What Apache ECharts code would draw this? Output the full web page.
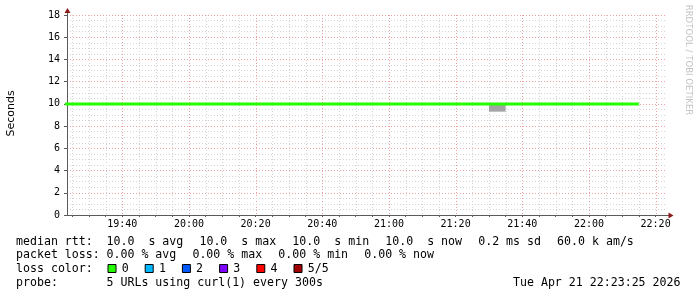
<!DOCTYPE html>
<html>
<head>
<meta charset="utf-8">
<script src="https://cdn.jsdelivr.net/npm/echarts@6/dist/echarts.min.js"></script>
<style>
html,body{margin:0;padding:0;background:#fff;}
#chart{width:697px;height:297px;}
</style>
</head>
<body>
<div id="chart"></div>
<script>
// ---------- data ----------
const rangeStart = "19:23:25";
const rangeEnd = "22:23:25";
const xTickLabels = ["19:40", "20:00", "20:20", "20:40", "21:00", "21:20", "21:40", "22:00", "22:20"];
const yTickLabels = [0, 2, 4, 6, 8, 10, 12, 14, 16, 18];
const medianTimes = ["19:20","19:25","19:30","19:35","19:40","19:45","19:50","19:55",
  "20:00","20:05","20:10","20:15","20:20","20:25","20:30","20:35","20:40","20:45","20:50","20:55",
  "21:00","21:05","21:10","21:15","21:20","21:25","21:30","21:35","21:40","21:45","21:50","21:55",
  "22:00","22:05","22:10","22:15"];
const medianValues = [10.0,10.0,10.0,10.0,10.0,10.0,10.0,10.0,
  10.0,10.0,10.0,10.0,10.0,10.0,10.0,10.0,10.0,10.0,10.0,10.0,
  10.0,10.0,10.0,10.0,10.0,10.0,10.0,10.0,10.0,10.0,10.0,10.0,
  10.0,10.0,10.0,10.0];
const smokeStart = ["21:30"];
const smokeEnd = ["21:35"];
const smokeLow = [9.3];
const smokeHigh = [10.0];
const lossLabels = ["0", "1", "2", "3", "4", "5/5"];
const lossColors = ["#26ff00", "#00b8ff", "#0059ff", "#7e00ff", "#ff0000", "#a10000"];
const rttLine = ["median rtt:", "10.0  s avg", "10.0  s max", "10.0  s min", "10.0  s now", "0.2 ms sd", "60.0 k am/s"];
const lossLine = ["packet loss:", "0.00 % avg", "0.00 % max", "0.00 % min", "0.00 % now"];
const probeLine = ["probe:", "5 URLs using curl(1) every 300s"];
const dateText = "Tue Apr 21 22:23:25 2026";
const yTitle = "Seconds";
const watermark = "RRDTOOL / TOBI OETIKER";

// ---------- helpers ----------
function toSec(s) {
  const p = s.split(":").map(Number);
  return p[0] * 3600 + p[1] * 60 + (p[2] || 0);
}
function fmt(v) {
  const h = Math.floor(v / 3600), m = Math.round((v % 3600) / 60);
  return String(h).padStart(2, "0") + ":" + String(m).padStart(2, "0");
}
const T0 = toSec(rangeStart), T1 = toSec(rangeEnd);
const majorX = xTickLabels.map(toSec);
const MINOR_STEP = 300;
const tickVals = [];
for (let t = Math.ceil(T0 / MINOR_STEP) * MINOR_STEP; t < T1; t += MINOR_STEP) tickVals.push(t);
// vertical grid lines: minor first, then major on top
const vGrid = tickVals.filter(t => majorX.indexOf(t) < 0).map(t => [t, 0])
  .concat(majorX.map(t => [t, 1]));

const PL = 67, PT = 15, PW = 600, PH = 200;
const mono = "DejaVu Sans Mono";
const MAJ = "#eca2a2";
const MIN = "#d4d4d4";
const AX = "#5a5a5a";

const chart = echarts.init(document.getElementById("chart"), null, {renderer: "canvas"});

// legend graphics
const g = [];
const FS = "11.6px '" + mono + "'";
const CW = 7.02, GAP = 15.7, COL1 = 106.5;
const rowY = [241.5, 255.3, 268.9, 282.6];
function row(items, y) {
  g.push({type: "text", x: 16, y: y, style: {text: items[0], font: FS, fill: "#000", verticalAlign: "middle"}});
  let x = COL1;
  for (let i = 1; i < items.length; i++) {
    g.push({type: "text", x: x, y: y, style: {text: items[i], font: FS, fill: "#000", verticalAlign: "middle"}});
    x += items[i].length * CW + GAP;
  }
}
row(rttLine, rowY[0]);
row(lossLine, rowY[1]);
row(probeLine, rowY[3]);
g.push({type: "text", x: 16, y: rowY[2], style: {text: "loss color:", font: FS, fill: "#000", verticalAlign: "middle"}});
lossLabels.forEach((t, i) => {
  const bx = 107.5 + i * 37.2;
  g.push({type: "rect", shape: {x: bx + 0.5, y: 264.5, width: 8, height: 8}, style: {fill: lossColors[i], stroke: "#000", lineWidth: 1}});
  g.push({type: "text", x: bx + 14.2, y: rowY[2], style: {text: t, font: FS, fill: "#000", verticalAlign: "middle"}});
});
g.push({type: "text", x: 680.5, y: rowY[3], style: {text: dateText, font: FS, fill: "#000", align: "right", verticalAlign: "middle"}});
// y title
g.push({type: "text", x: 11, y: 113.5, rotation: Math.PI / 2, style: {text: yTitle, font: "11px 'DejaVu Sans'", fill: "#000", align: "center", verticalAlign: "middle"}});
// watermark
g.push({type: "text", x: 688, y: 60, rotation: -Math.PI / 2, style: {text: watermark, font: "8.6px 'DejaVu Sans'", fill: "#c4c4c4", align: "center", verticalAlign: "middle"}});
// axis extensions and arrows
g.push({type: "line", shape: {x1: 67.5, y1: 15, x2: 67.5, y2: 12}, style: {stroke: AX, lineWidth: 1}});
g.push({type: "polygon", shape: {points: [[67.5, 8], [64.5, 13], [70.5, 13]]}, style: {fill: "#8b1a1a"}});
g.push({type: "line", shape: {x1: 667, y1: 215.5, x2: 669, y2: 215.5}, style: {stroke: AX, lineWidth: 1}});
g.push({type: "polygon", shape: {points: [[673.5, 215.5], [668.5, 212.5], [668.5, 218.5]]}, style: {fill: "#8b1a1a"}});

const option = {
  animation: false,
  backgroundColor: "#ffffff",
  grid: {left: PL, top: PT, width: PW, height: PH, containLabel: false},
  xAxis: {
    type: "value", min: T0, max: T1, position: "bottom", z: 3,
    axisLine: {show: true, onZero: false, lineStyle: {color: AX, width: 1}},
    axisTick: {show: true, length: 2, customValues: tickVals, lineStyle: {color: AX}},
    axisLabel: {customValues: majorX, formatter: fmt, fontFamily: mono, fontSize: 10, color: "#000", margin: 4},
    splitLine: {show: false}
  },
  yAxis: {
    type: "value", min: yTickLabels[0], max: yTickLabels[yTickLabels.length - 1],
    interval: yTickLabels[1] - yTickLabels[0], z: 2,
    axisLine: {show: true, onZero: false, lineStyle: {color: AX, width: 1}},
    axisTick: {show: true, length: 3, lineStyle: {color: AX}},
    minorTick: {show: false, splitNumber: 4},
    axisLabel: {fontFamily: mono, fontSize: 10, color: "#000", margin: 7},
    splitLine: {show: true, lineStyle: {color: MAJ, width: 1, type: [1, 2]}},
    minorSplitLine: {show: true, lineStyle: {color: MIN, width: 1, type: [1, 2]}}
  },
  series: [
    {
      // vertical time grid, snapped to whole pixels
      type: "custom", z: 1, silent: true,
      data: vGrid,
      encode: {x: 0, y: 1},
      renderItem: function (params, api) {
        const cs = params.coordSys;
        const x = Math.round(api.coord([api.value(0), 0])[0]) + 0.5;
        const major = api.value(1) === 1;
        return {type: "line", z2: major ? 1 : 0,
          shape: {x1: x, y1: cs.y, x2: x, y2: cs.y + cs.height},
          style: {stroke: major ? MAJ : MIN, lineWidth: 1, lineDash: [1, 2]}};
      }
    },
    {
      type: "custom", z: 3,
      data: smokeStart.map((s, i) => [toSec(s), toSec(smokeEnd[i]), smokeLow[i], smokeHigh[i]]),
      encode: {x: [0, 1], y: [2, 3]},
      renderItem: function (params, api) {
        const p0 = api.coord([api.value(0), api.value(3)]);
        const p1 = api.coord([api.value(1), api.value(2)]);
        return {type: "rect", shape: {x: p0[0], y: p0[1], width: p1[0] - p0[0], height: p1[1] - p0[1]}, style: {fill: "#a4a4a4"}};
      }
    },
    {
      type: "line", z: 4, step: "start", symbol: "none", clip: true,
      data: medianTimes.map((t, i) => [toSec(t), medianValues[i]]),
      lineStyle: {color: "#26ff00", width: 3, cap: "butt"}
    }
  ],
  graphic: g
};
chart.setOption(option);
</script>
</body>
</html>
